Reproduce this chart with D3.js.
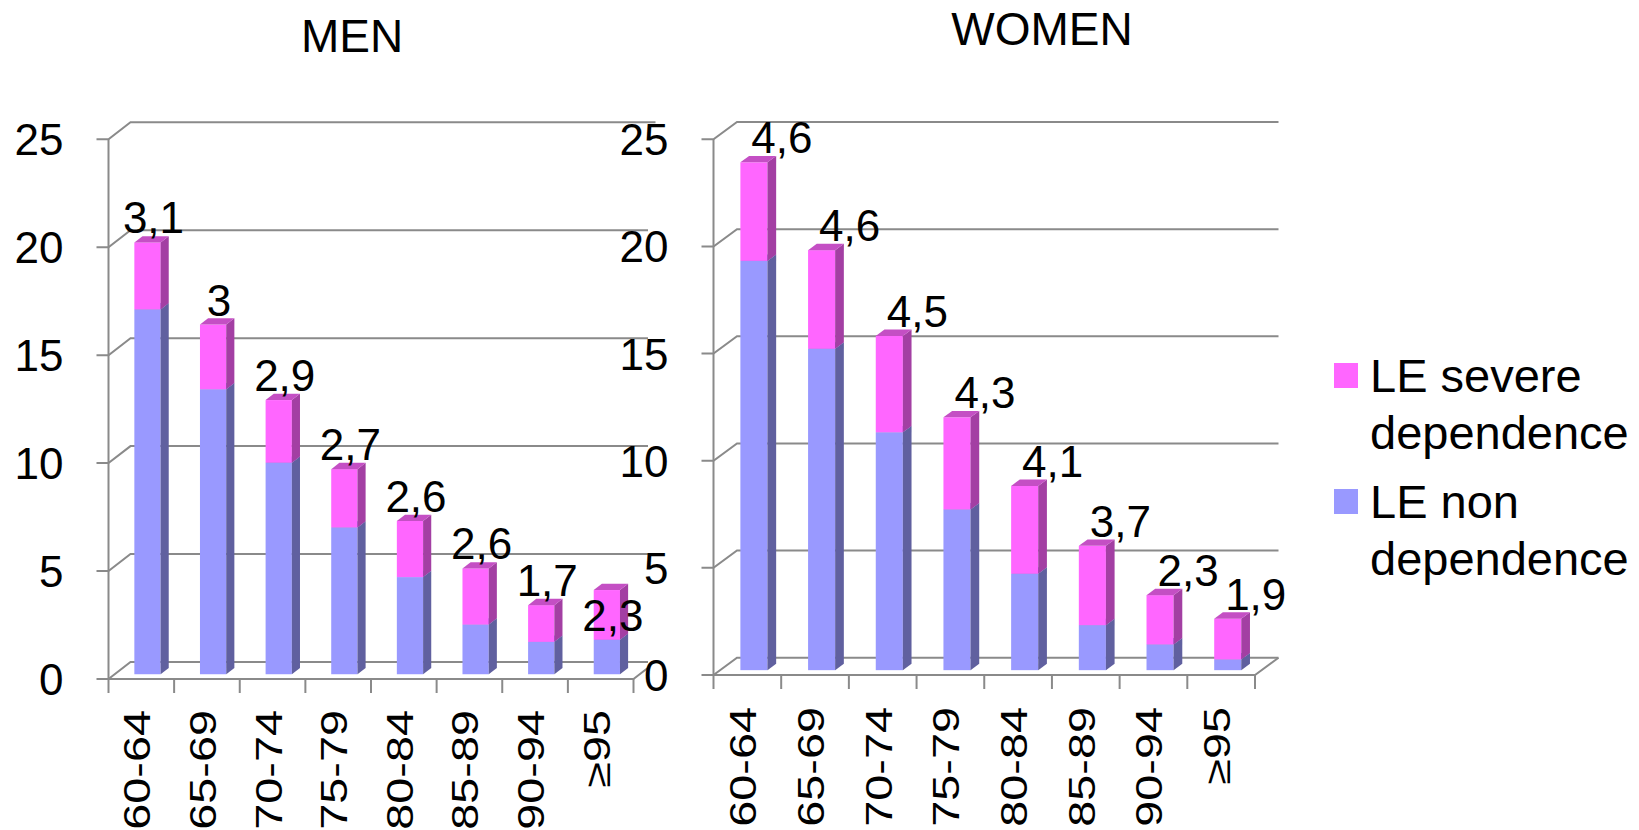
<!DOCTYPE html>
<html>
<head>
<meta charset="utf-8">
<script src="https://cdn.jsdelivr.net/npm/d3@7"></script>
<style>
  body { margin: 0; background: #fff; }
  svg { font-family: "Liberation Sans", Arial, sans-serif; }
</style>
</head>
<body>
<div id="chart"></div>
<script>
// age bands on the x axis, same for both panels
const ageGroups = ["60-64", "65-69", "70-74", "75-79", "80-84", "85-89", "90-94", "≥95"];
const seriesNames = ["LE severe dependence", "LE non dependence"];
const yTicks = [0, 5, 10, 15, 20, 25];

// life expectancy (years)
const menNonDependence = [16.9, 13.2, 9.8, 6.8, 4.5, 2.3, 1.5, 1.6];
const menSevere = [3.1, 3.0, 2.9, 2.7, 2.6, 2.6, 1.7, 2.3];
const womenNonDependence = [19.1, 15.0, 11.1, 7.5, 4.5, 2.1, 1.2, 0.5];
const womenSevere = [4.6, 4.6, 4.5, 4.3, 4.1, 3.7, 2.3, 1.9];

const colors = {
  severe: { front: "#ff66ff", side: "#a33fa3", top: "#c44fc4" },
  non: { front: "#9999ff", side: "#60609f", top: "#7a7ad0" },
};
const gridColor = "#8a8a8a";

const svg = d3
  .select("#chart")
  .append("svg")
  .attr("width", 1639)
  .attr("height", 830);

// one 3D stacked column panel
drawPanel = (p) => {
  const g = svg.append("g").attr("class", "panel-" + p.id);

  if (p.bg) {
    g.append("rect")
      .attr("x", p.bg.x)
      .attr("y", p.bg.y)
      .attr("width", p.bg.w)
      .attr("height", p.bg.h)
      .attr("fill", "white");
  }

  const x = d3.scaleBand().domain(ageGroups).range([p.x0, p.x1]).padding(0);
  const y = d3.scaleLinear().domain([0, 25]).range([p.yZero, p.yTop]);
  const DX = p.depth[0],
    DY = p.depth[1];

  // side wall diagonals + back wall gridlines
  const grid = g.append("g").attr("stroke", gridColor).attr("stroke-width", 2).attr("fill", "none");
  yTicks.forEach((v) => {
    const yy = y(v);
    grid.append("path").attr(
      "d",
      `M${p.x0 - 12},${yy}H${p.x0}L${p.x0 + DX},${yy + DY}H${p.x1 + DX}`
    );
  });
  // front axis + floor edge
  grid.append("path").attr("d", `M${p.x0},${y(25)}V${y(0)}H${p.x1}L${p.x1 + DX},${y(0) + DY}`);
  // category ticks
  grid
    .selectAll("line.cat")
    .data(ageGroups.map((a) => x(a)).concat([p.x1]))
    .join("line")
    .attr("x1", (d) => d)
    .attr("x2", (d) => d)
    .attr("y1", y(0))
    .attr("y2", y(0) + 14);

  // y tick labels
  g.append("g")
    .selectAll("text")
    .data(yTicks)
    .join("text")
    .attr("class", "ytick")
    .attr("x", p.x0 - 45)
    .attr("y", (d) => y(d) + 16)
    .attr("text-anchor", "end")
    .attr("font-size", 44)
    .text((d) => d);

  // bars: front face sits a bit behind the floor edge
  const d0 = 0.28,
    d1 = 0.65;
  const rows = ageGroups.map((a, i) => ({
    age: a,
    segs: [
      { v0: 0, v1: p.non[i], c: colors.non },
      { v0: p.non[i], v1: p.non[i] + p.severe[i], c: colors.severe },
    ],
    total: p.non[i] + p.severe[i],
    label: String(p.severe[i]).replace(".", ","),
  }));

  const bars = g.append("g");
  rows.forEach((r) => {
    const bw = x.bandwidth() * 0.4;
    const fx = x(r.age) + (x.bandwidth() - bw) / 2 + d0 * DX;
    const ddx = (d1 - d0) * DX,
      ddy = (d1 - d0) * DY;
    r.segs.forEach((s) => {
      const yt = y(s.v1) + d0 * DY,
        yb = y(s.v0) + d0 * DY;
      bars.append("rect")
        .attr("x", fx)
        .attr("y", yt)
        .attr("width", bw)
        .attr("height", yb - yt)
        .attr("fill", s.c.front);
      bars.append("path")
        .attr("d", `M${fx + bw},${yt}L${fx + bw + ddx},${yt + ddy}V${yb + ddy}L${fx + bw},${yb}Z`)
        .attr("fill", s.c.side);
      bars.append("path")
        .attr("d", `M${fx},${yt}L${fx + ddx},${yt + ddy}H${fx + bw + ddx}L${fx + bw},${yt}Z`)
        .attr("fill", s.c.top);
    });
    r.cx = fx + bw / 2;
    r.ty = y(r.total) + d0 * DY;
    // middle of the severe segment, used if the label has to go inside the bar
    r.my = (y(r.total) + y(r.segs[1].v0)) / 2 + d0 * DY;
  });

  // data labels for the severe dependence part
  g.append("g")
    .selectAll("text")
    .data(rows)
    .join("text")
    .attr("class", "dlabel")
    .attr("x", (d) => d.cx + p.labelDx)
    .attr("y", (d) => d.ty - 9)
    .attr("text-anchor", "middle")
    .attr("font-size", 44)
    .text((d) => d.label);

  // rotated category labels (they look stretched along the text in the original)
  g.append("g")
    .selectAll("text")
    .data(ageGroups)
    .join("text")
    .attr(
      "transform",
      (d) => `translate(${x(d) + x.bandwidth() / 2 + 9},${p.labelTop}) rotate(-90) scale(1.3,1)`
    )
    .attr("text-anchor", "end")
    .attr("font-size", 36)
    .text((d) => d);

  g.append("text")
    .attr("x", p.title.x)
    .attr("y", p.title.y)
    .attr("text-anchor", "middle")
    .attr("font-size", 46)
    .text(p.title.text);
};

drawPanel({
  id: "men",
  title: { text: "MEN", x: 352, y: 52 },
  x0: 108.5,
  x1: 633.5,
  yZero: 679,
  yTop: 139.3,
  depth: [22, -17],
  labelTop: 710,
  labelDx: 6,
  non: menNonDependence,
  severe: menSevere,
});

drawPanel({
  id: "women",
  title: { text: "WOMEN", x: 1042, y: 45 },
  bg: { x: 648, y: 125, w: 660, h: 705 },
  x0: 713.5,
  x1: 1255,
  yZero: 675,
  yTop: 139.3,
  depth: [23.5, -17.3],
  labelTop: 707,
  labelDx: 28,
  non: womenNonDependence,
  severe: womenSevere,
});

// a men's label that runs into (or right up against) the women's axis numbers
// goes inside its bar instead
const pad = 10;
const hits = (a, b) =>
  a.x - pad < b.x + b.width &&
  b.x < a.x + a.width + pad &&
  a.y < b.y + b.height &&
  b.y < a.y + a.height;
const womenTicks = svg.selectAll(".panel-women .ytick").nodes().map((n) => n.getBBox());
svg.selectAll(".panel-men .dlabel").each(function (d) {
  const box = this.getBBox();
  if (womenTicks.some((b) => hits(box, b))) {
    d3.select(this).attr("y", d.my + 16);
  }
});

// legend
const legend = svg.append("g").attr("font-size", 47);
const legendItems = [
  { name: seriesNames[0], color: colors.severe.front },
  { name: seriesNames[1], color: colors.non.front },
];
legendItems.forEach((d, i) => {
  const base = 392 + i * 126;
  legend.append("rect")
    .attr("x", 1334)
    .attr("y", base - 29)
    .attr("width", 24)
    .attr("height", 25)
    .attr("fill", d.color);
  const cut = d.name.lastIndexOf(" ");
  const t = legend.append("text").attr("x", 1370).attr("y", base);
  t.append("tspan").text(d.name.slice(0, cut));
  t.append("tspan").attr("x", 1370).attr("dy", 57).text(d.name.slice(cut + 1));
});
</script>
</body>
</html>
